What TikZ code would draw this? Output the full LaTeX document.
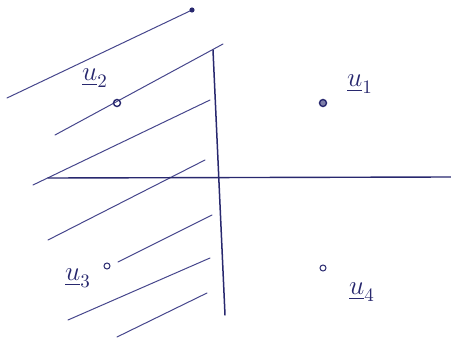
\documentclass[tikz,border=0pt]{standalone}
\usepackage{amsmath}
\usetikzlibrary{positioning}
\definecolor{ink}{RGB}{40,40,110}
\definecolor{hatch}{RGB}{70,70,140}
\begin{document}
\begin{tikzpicture}[x=1pt,y=-1pt,line cap=round]
\tikzset{pt/.style={circle,draw=ink,inner sep=0pt,minimum size=7pt,line width=1.4pt},
  lab/.style={text=ink,font=\Large,scale=1.9}}
\useasboundingbox (0,0) rectangle (451,340);
\coordinate (xl) at (48,178);
\coordinate (xr) at (451,177);
\coordinate (yt) at (213,50);
\coordinate (yb) at (225,315);
\foreach \p/\q/\r/\s in {7/98/192/10, 55/135/223/44, 33/185/210/100, 48/240/205/160,
  118/262/212/215, 68/320/210/258, 117/337/207/293}
  \draw[hatch,line width=1pt] (\p,\q) -- (\r,\s);
\fill[ink] (192,10) circle (2.6pt);
\draw[ink,line width=1.4pt] (xl) -- (xr);
\draw[ink,line width=1.5pt] (yt) -- (yb);
\node[pt,fill=ink!60] (u1) at (323,103) {};
\node[pt] (u2) at (117,103) {};
\node[pt,minimum size=6pt,line width=1pt] (u3) at (107,266) {};
\node[pt,minimum size=6pt,line width=1pt] (u4) at (323,268) {};
\node[lab] (l1) at (360,84) {$\underline{u}_1$};
\node[lab] (l2) at (95,78) {$\underline{u}_2$};
\node[lab] (l3) at (78,278) {$\underline{u}_3$};
\node[lab] (l4) at (362,292) {$\underline{u}_4$};
\end{tikzpicture}
\end{document}
